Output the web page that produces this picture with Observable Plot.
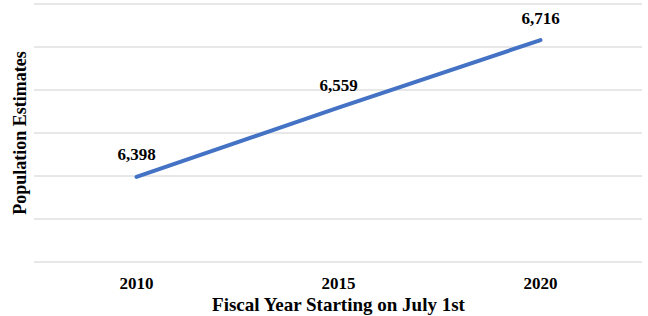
<!DOCTYPE html>
<html>
<head>
<meta charset="utf-8">
<script src="https://cdn.jsdelivr.net/npm/d3@7"></script>
<script src="https://cdn.jsdelivr.net/npm/@observablehq/plot@0.6"></script>
<style>
  html, body { margin: 0; padding: 0; background: #ffffff; }
  #chart svg { display: block; }
</style>
</head>
<body>
<div id="chart"></div>
<script>
const years = ["2010", "2015", "2020"];
const population = [6398, 6559, 6716];
const yTicks = [6200, 6300, 6400, 6500, 6600, 6700, 6800];
const xTitle = "Fiscal Year Starting on July 1st";
const yTitle = "Population Estimates";

const data = years.map((y, i) => ({year: y, value: population[i]}));

const chart = Plot.plot({
  width: 648,
  height: 316,
  marginLeft: 34,
  marginRight: 6,
  marginTop: 3.5,
  marginBottom: 54.5,
  style: {fontFamily: "'Liberation Serif', 'Times New Roman', serif", fontWeight: "bold", color: "#000", background: "#fff"},
  x: {type: "point", domain: years, padding: 0.5},
  y: {domain: [6200, 6800]},
  marks: [
    Plot.ruleY(yTicks, {stroke: "#d0d0d0", strokeWidth: 1, strokeOpacity: 1}),
    Plot.axisY({ticks: [], label: null}),
    Plot.axisX({tickSize: 0, tickPadding: 15, fontSize: 17, fontWeight: "bold", label: null, fill: "#000"}),
    Plot.line(data, {x: "year", y: "value", stroke: "#4472C4", strokeWidth: 4, strokeLinecap: "round"}),
    Plot.text(data, {x: "year", y: "value", text: d => d3.format(",")(d.value), dy: -22, fontSize: 17, fontWeight: "bold", fill: "#000"}),
    Plot.text([xTitle], {frameAnchor: "bottom", dy: 43, text: d => d, fontSize: 19, fontWeight: "bold", lineAnchor: "middle", textAnchor: "middle", fill: "#000"}),
    Plot.text([yTitle], {frameAnchor: "left", dx: -14, rotate: -90, text: d => d, fontSize: 18, fontWeight: "bold", lineAnchor: "middle", textAnchor: "middle", fill: "#000"})
  ]
});
document.getElementById("chart").appendChild(chart);
</script>
</body>
</html>
